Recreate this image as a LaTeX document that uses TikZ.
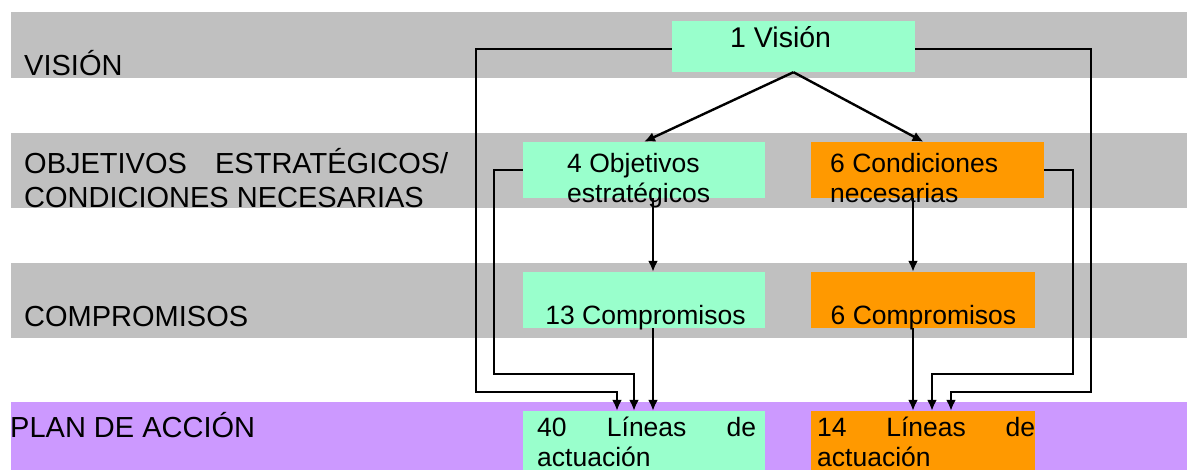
\documentclass[tikz,border=0pt]{standalone}
\usepackage{fontspec}
\setmainfont{Liberation Sans}
\usetikzlibrary{arrows.meta}
\tikzset{>={Latex[length=11pt,width=10pt]}}
\definecolor{bandgray}{HTML}{C0C0C0}
\definecolor{bandpurple}{HTML}{CC99FF}
\definecolor{boxgreen}{HTML}{99FFCC}
\definecolor{boxorange}{HTML}{FF9900}
\tikzset{
  box/.style={rectangle,inner sep=0pt,draw=none},
  boxtext/.style={anchor=base west,align=left,inner sep=0pt,
    font=\fontsize{26.5}{30}\selectfont},
  bandtext/.style={anchor=base west,align=left,inner sep=0pt,
    font=\fontsize{29}{33.5}\selectfont},
  link/.style={line width=2.4pt,->}
}

\begin{document}
\begin{tikzpicture}[x=1pt,y=-1pt]
    \useasboundingbox (0,0) rectangle (1187,470);

    % bands
    \fill [bandgray] (11,12) rectangle (1187,78);
    \fill [bandgray] (11,133) rectangle (1187,208);
    \fill [bandgray] (11,263) rectangle (1187,338);
    \fill [bandpurple] (11,402) rectangle (1187,470);

    \node [bandtext] (band vision) at (24,76) {VISIÓN};
    % multi-line texts sit on the baseline of their last line
    \node [bandtext] (band obj) at (24,207.5)
    {\hbox to 424pt{OBJETIVOS\hfill ESTRATÉGICOS/}\\CONDICIONES NECESARIAS};
    \node [bandtext] (band comp) at (24,327) {COMPROMISOS};
    \node [bandtext] (band plan) at (10,438) {PLAN DE ACCIÓN};

    % boxes
    \node [box,fill=boxgreen,minimum width=243pt,minimum height=51pt]
    (vision) at (793.5,46.5) {};
    \node [box,fill=boxgreen,minimum width=242pt,minimum height=56pt]
    (obj) at (644,170) {};
    \node [box,fill=boxorange,minimum width=233pt,minimum height=56pt]
    (cond) at (927.5,170) {};
    \node [box,fill=boxgreen,minimum width=242pt,minimum height=56pt]
    (comp13) at (644,300) {};
    \node [box,fill=boxorange,minimum width=224pt,minimum height=56pt]
    (comp6) at (923,300) {};
    \node [box,fill=boxgreen,minimum width=242pt,minimum height=59pt]
    (lin40) at (644,440.5) {};
    \node [box,fill=boxorange,minimum width=224pt,minimum height=59pt]
    (lin14) at (923,440.5) {};

    \node [boxtext,font=\fontsize{28.5}{30}\selectfont]
    (vision text) at (730,48) {1 Visión};
    \node [boxtext] (obj text) at (567,203) {4 Objetivos\\estratégicos};
    \node [boxtext] (cond text) at (830,203) {6 Condiciones\\necesarias};
    \node [boxtext,anchor=base] (comp13 text) at (645.5,325) {13 Compromisos};
    \node [boxtext,anchor=base] (comp6 text) at (923.5,325) {6 Compromisos};
    \node [boxtext] (lin40 text) at (537,467)
    {\hbox to 219pt{40\hfill Líneas\hfill de}\\actuación};
    \node [boxtext] (lin14 text) at (817,467)
    {\hbox to 218pt{14\hfill Líneas\hfill de}\\actuación};

    % lanes of the long connectors
    \coordinate (outer l) at (476,392);
    \coordinate (inner l) at (494,374);
    \coordinate (inner r) at (1073,374);
    \coordinate (outer r) at (1091,392);

    \draw [link] (vision.south) -- (obj.north);
    \draw [link] (vision.south) -- ([xshift=-4pt]cond.north);
    \draw [link] ([xshift=9pt]obj.south) -- ([xshift=9pt]comp13.north);
    \draw [link] ([xshift=-14.5pt]cond.south) -- ([xshift=-10pt]comp6.north);
    \draw [link] ([xshift=9pt]comp13.south) -- ([xshift=9pt]lin40.north);
    \draw [link] ([xshift=-10pt]comp6.south) -- ([xshift=-10pt]lin14.north);

    \draw [link] ([yshift=-2.5pt]vision.west) -| (outer l)
    -| ([xshift=-27pt]lin40.north);
    \draw [link] (obj.west) -| (inner l) -| ([xshift=-10pt]lin40.north);
    \draw [link] ([yshift=-2.5pt]vision.east) -| (outer r)
    -| ([xshift=28pt]lin14.north);
    \draw [link] (cond.east) -| (inner r) -| ([xshift=9pt]lin14.north);
  \end{tikzpicture}
\end{document}
